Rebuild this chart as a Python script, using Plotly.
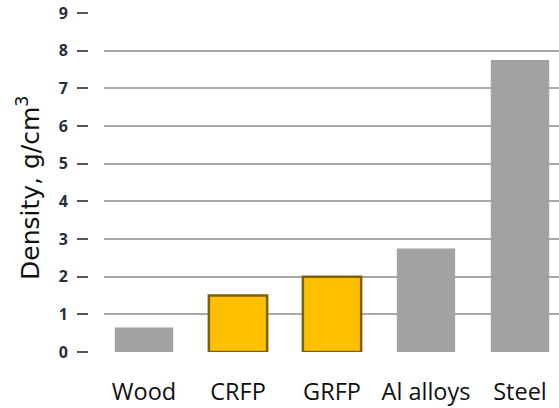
import plotly.graph_objects as go

categories = ["Wood", "CRFP", "GRFP", "Al alloys", "Steel"]
density = [0.65, 1.5, 2.0, 2.75, 7.75]
y_ticks = [0, 1, 2, 3, 4, 5, 6, 7, 8, 9]

fill_colors = ["#a2a2a2", "#ffc000", "#ffc000", "#a2a2a2", "#a2a2a2"]
line_colors = ["#a2a2a2", "#7f6000", "#7f6000", "#a2a2a2", "#a2a2a2"]
line_widths = [0, 2.5, 2.5, 0, 0]

W, H = 559, 408
left_plot = 104
axis_x = 88

fig = go.Figure()
fig.add_trace(go.Bar(
    x=list(range(len(categories))),
    y=density,
    width=0.62,
    marker=dict(color=fill_colors, line=dict(color=line_colors, width=line_widths)),
))

fig.update_layout(
    width=W, height=H,
    margin=dict(l=0, r=0, t=13, b=56),
    plot_bgcolor="white", paper_bgcolor="white",
    showlegend=False,
    font=dict(family="Open Sans", color="#000"),
    xaxis=dict(
        domain=[left_plot / W, 1],
        range=[(104 - 144) / 94, (559 - 144) / 94],
        tickmode="array",
        tickvals=list(range(len(categories))),
        ticktext=categories,
        ticks="outside", ticklen=19, tickcolor="rgba(0,0,0,0)",
        showgrid=False, zeroline=False, showline=False,
        tickfont=dict(size=23.5, color="#111"),
    ),
    yaxis=dict(
        range=[0, 9],
        anchor="free", position=axis_x / W,
        tickmode="array", tickvals=y_ticks,
        ticks="outside", ticklen=11, tickwidth=1.5, tickcolor="#555",
        ticklabelstandoff=6,
        showgrid=True, gridcolor="#a8a8a8", gridwidth=1.5,
        zeroline=False, showline=False,
        tickfont=dict(size=16, color="#2a2d3e", family="Open Sans", weight="bold"),
    ),
)

fig.add_annotation(
    text="Density, g/cm<sup>3</sup>",
    xref="paper", yref="paper", x=28 / W, y=(352 - 188) / 339,
    xanchor="center", yanchor="middle",
    textangle=-90, showarrow=False,
    font=dict(size=25, color="#111", family="DejaVu Sans"),
)

fig.write_html("out.html", post_script="document.body.style.margin='0';",
               config={"displayModeBar": False})
